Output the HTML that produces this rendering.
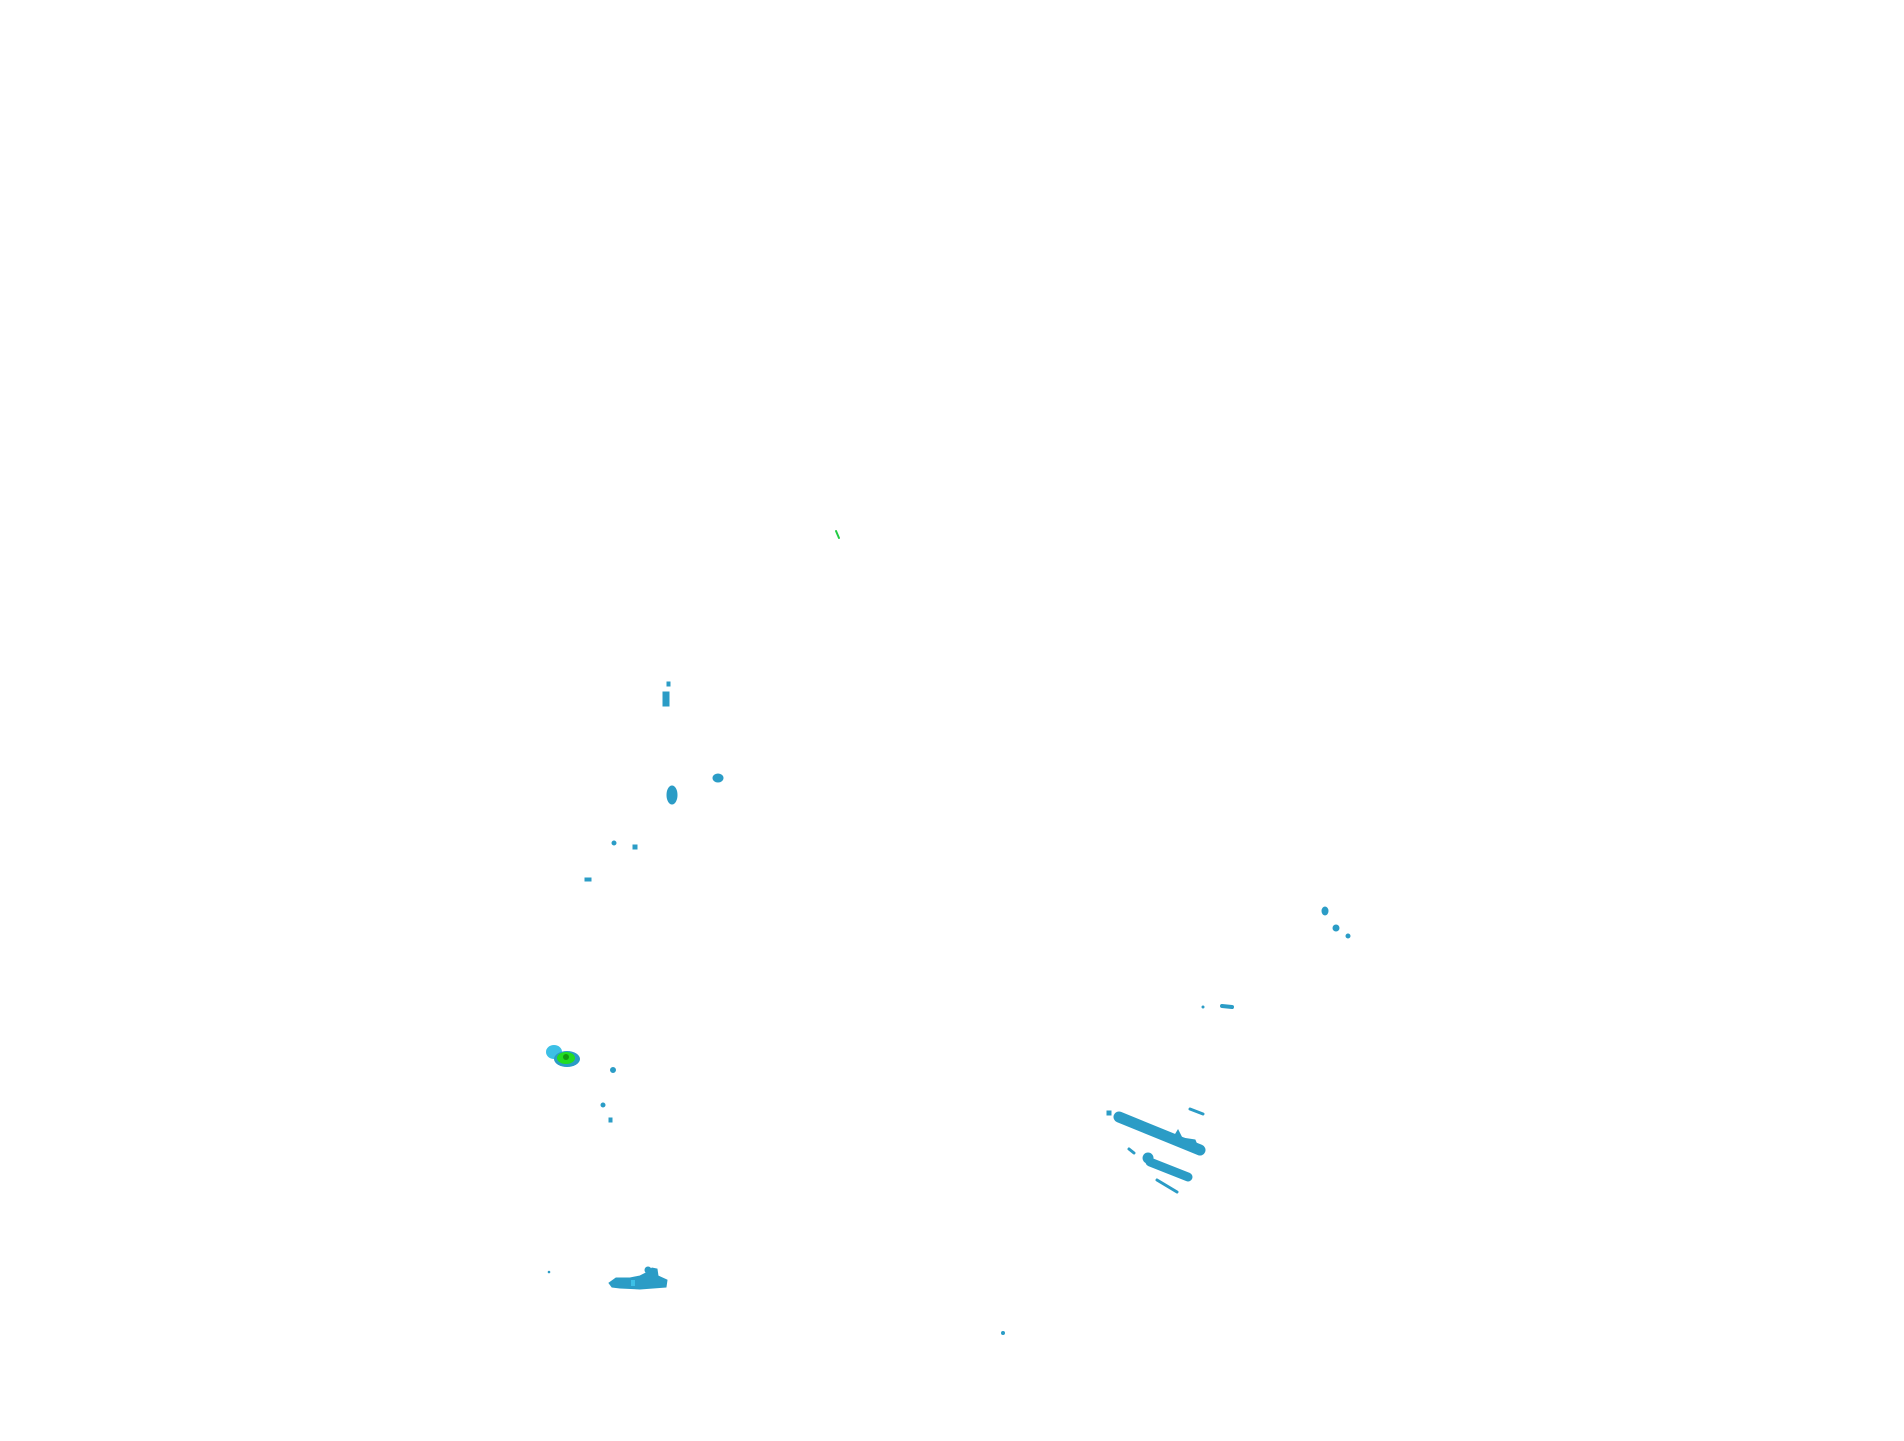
<!DOCTYPE html>
<html><head><meta charset="utf-8"><style>
html,body{margin:0;padding:0;background:#fff;}
svg{display:block;}
</style></head><body>
<svg width="1904" height="1441" viewBox="0 0 1904 1441" xmlns="http://www.w3.org/2000/svg">
<g fill="#2b9cc6" stroke="#2b9cc6" stroke-linecap="round">
<line x1="836" y1="531" x2="839" y2="538" stroke="#22cc44" stroke-width="2"/>
<rect x="663" y="692" width="6" height="14"/>
<rect x="667" y="682" width="3" height="4"/>
<ellipse cx="672" cy="795" rx="5" ry="9"/>
<ellipse cx="718" cy="778" rx="5" ry="4"/>
<circle cx="614" cy="843" r="2"/>
<rect x="633" y="845" width="4" height="4"/>
<rect x="585" y="878" width="6" height="3"/>
<ellipse cx="1325" cy="911" rx="3" ry="4"/>
<circle cx="1336" cy="928" r="3"/>
<circle cx="1348" cy="936" r="2"/>
<line x1="1222" y1="1006" x2="1232" y2="1007" stroke-width="4"/>
<circle cx="1203" cy="1007" r="1"/>
<line x1="1119" y1="1117" x2="1200" y2="1150" stroke-width="11"/>
<polygon points="1175,1135 1178,1130 1182,1138 1195,1140 1200,1152 1185,1148" />
<line x1="1150" y1="1162" x2="1188" y2="1177" stroke-width="9"/>
<circle cx="1148" cy="1158" r="5"/>
<line x1="1157" y1="1180" x2="1177" y2="1192" stroke-width="3"/>
<line x1="1190" y1="1109" x2="1203" y2="1114" stroke-width="3"/>
<rect x="1107" y="1111" width="4" height="4"/>
<line x1="1129" y1="1149" x2="1134" y2="1153" stroke-width="3"/>
<circle cx="613" cy="1070" r="2.5"/>
<circle cx="603" cy="1105" r="2"/>
<rect x="609" y="1118" width="3" height="4"/>
<polygon points="609,1283 616,1278 630,1278 640,1276 648,1272 652,1268 657,1269 658,1276 667,1280 666,1287 640,1289 620,1288 612,1287" />
<circle cx="648" cy="1270" r="3"/>
<circle cx="1003" cy="1333" r="1.5"/>
<circle cx="549" cy="1272" r="0.8"/>
</g>
<ellipse cx="554" cy="1052" rx="8" ry="7" fill="#3cc0e6"/>
<ellipse cx="567" cy="1059" rx="13" ry="8" fill="#2b9cc6"/>
<ellipse cx="566" cy="1058" rx="9" ry="6" fill="#22dd22"/>
<ellipse cx="566" cy="1057" rx="3" ry="3" fill="#119911"/>
<rect x="631" y="1280" width="4" height="6" fill="#3cc0e6"/>
</svg>
</body></html>
